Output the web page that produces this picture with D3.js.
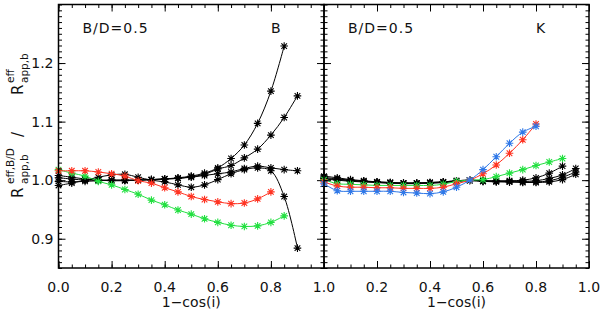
<!DOCTYPE html>
<html>
<head>
<meta charset="utf-8">
<script src="https://cdn.jsdelivr.net/npm/d3@7"></script>
<style>
  body { margin: 0; background: #fff; }
  text { font-family: "DejaVu Sans", sans-serif; fill: #111; }
</style>
</head>
<body>
<script>
// inclination grid, 1-cos(i)
const incl = [0, 0.05, 0.1, 0.15, 0.2, 0.25, 0.3, 0.35, 0.4, 0.45,
              0.5, 0.55, 0.6, 0.65, 0.7, 0.75, 0.8, 0.85, 0.9, 0.95];

// B band panel
const bBlackA = [1.004, 1.002, 1.000, 1.000, 1.000, 1.000, 1.000, 1.001, 1.002, 1.004, 1.007, 1.012, 1.021, 1.037, 1.060, 1.097, 1.152, 1.229];
const bBlackB = [0.998, 0.997, 0.998, 0.999, 1.000, 1.000, 1.000, 1.001, 1.002, 1.003, 1.006, 1.010, 1.019, 1.025, 1.038, 1.053, 1.077, 1.107, 1.144];
const bBlackC = [0.991, 0.995, 1.000, 1.005, 1.009, 1.010, 1.005, 1.000, 0.997, 0.992, 0.988, 0.992, 1.001, 1.011, 1.018, 1.021, 1.016, 0.972, 0.884];
const bBlackD = [1.008, 1.005, 1.002, 1.000, 0.999, 0.999, 1.000, 1.001, 1.002, 1.003, 1.005, 1.008, 1.011, 1.014, 1.020, 1.024, 1.021, 1.018, 1.016];
const bRed    = [1.016, 1.016, 1.016, 1.014, 1.011, 1.007, 0.999, 0.995, 0.987, 0.980, 0.972, 0.967, 0.963, 0.960, 0.961, 0.968, 0.980];
const bGreen  = [1.018, 1.012, 1.007, 0.998, 0.992, 0.984, 0.976, 0.966, 0.958, 0.949, 0.942, 0.934, 0.928, 0.923, 0.921, 0.922, 0.928, 0.939];

// K band panel
const kBlack1 = [1.007, 1.004, 1.001, 0.999, 0.997, 0.996, 0.995, 0.995, 0.996, 0.997, 0.999, 1.000, 0.999, 0.999, 0.999, 1.000, 1.004, 1.012, 1.024];
const kBlack2 = [1.005, 1.002, 1.000, 0.998, 0.997, 0.996, 0.995, 0.995, 0.996, 0.997, 0.999, 1.000, 0.999, 0.998, 0.998, 0.998, 0.999, 1.003, 1.009, 1.020];
const kBlack3 = [1.003, 1.001, 0.999, 0.998, 0.996, 0.995, 0.995, 0.995, 0.995, 0.996, 0.998, 1.000, 0.998, 0.998, 0.997, 0.997, 0.997, 0.999, 1.005, 1.014];
const kBlack4 = [1.002, 1.000, 0.998, 0.997, 0.996, 0.995, 0.994, 0.994, 0.995, 0.996, 0.998, 0.999, 0.998, 0.997, 0.997, 0.996, 0.996, 0.997, 1.001, 1.010];
const kGreen  = [1.001, 0.994, 0.993, 0.992, 0.991, 0.991, 0.991, 0.991, 0.991, 0.993, 0.998, 1.000, 1.001, 1.006, 1.012, 1.018, 1.025, 1.031, 1.037];
const kRed    = [0.997, 0.990, 0.988, 0.988, 0.987, 0.987, 0.986, 0.986, 0.986, 0.988, 0.994, 1.000, 1.011, 1.026, 1.046, 1.069, 1.096];
const kBlue   = [0.994, 0.982, 0.981, 0.981, 0.981, 0.981, 0.979, 0.978, 0.977, 0.980, 0.988, 1.000, 1.018, 1.040, 1.063, 1.082, 1.092];

const xTicksLeft = [0, 0.2, 0.4, 0.6, 0.8, 1.0];
const xTicksRight = [0.2, 0.4, 0.6, 0.8, 1.0];
const yTicks = [0.9, 1.0, 1.1, 1.2];

const colors = { black: "#000", red: "#ff3322", green: "#22e040", blue: "#2f78e8" };

const svg = d3.select("body").append("svg")
  .attr("width", 600)
  .attr("height", 313);

const yTop = 4.5, yBottom = 268;
const y = d3.scaleLinear().domain([0.85, 1.30]).range([yBottom, yTop]);

const panels = [
  { x0: 58.5, x1: 324, band: "B", xticks: xTicksLeft, ylabels: true,
    series: [[bBlackA, "black"], [bBlackB, "black"], [bBlackC, "black"], [bBlackD, "black"],
             [bGreen, "green"], [bRed, "red"]] },
  { x0: 324, x1: 589, band: "K", xticks: xTicksRight, ylabels: false,
    series: [[kBlack1, "black"], [kBlack2, "black"], [kBlack3, "black"], [kBlack4, "black"],
             [kGreen, "green"], [kRed, "red"], [kBlue, "blue"]] }
];

const minorX = d3.range(0, 1.0001, 0.05);
const minorY = d3.range(0.85, 1.3001, 0.01);

// asterisk marker, plus and cross
const star = "M-3.8,0H3.8M0,-3.8V3.8M-2.8,-2.8L2.8,2.8M-2.8,2.8L2.8,-2.8";

panels.forEach(p => {
  const x = d3.scaleLinear().domain([0, 1]).range([p.x0, p.x1]);
  const g = svg.append("g");

  const line = d3.line()
    .x((d, i) => x(incl[i]))
    .y(d => y(d))
    .curve(d3.curveCatmullRom.alpha(0.5));

  p.series.forEach(([vals, c]) => {
    g.append("path")
      .attr("d", line(vals))
      .attr("fill", "none")
      .attr("stroke", colors[c])
      .attr("stroke-width", 1);
    g.selectAll(null)
      .data(vals)
      .join("path")
        .attr("d", star)
        .attr("transform", (d, i) => `translate(${x(incl[i])},${y(d)})`)
        .attr("fill", "none")
        .attr("stroke", colors[c])
        .attr("stroke-width", 1.1);
  });

  // ticks on all four sides, pointing in
  const axes = [
    [d3.axisBottom(x), `translate(0,${yBottom})`],
    [d3.axisTop(x), `translate(0,${yTop})`],
  ];
  axes.forEach(([ax, tr]) => {
    g.append("g").attr("transform", tr)
      .call(ax.tickValues(minorX).tickSize(-3.5).tickFormat(""));
    g.append("g").attr("transform", tr)
      .call(ax.tickValues(p.xticks).tickSize(-7).tickFormat(""));
  });
  [[d3.axisLeft(y), p.x0], [d3.axisRight(y), p.x1]].forEach(([ax, xp]) => {
    g.append("g").attr("transform", `translate(${xp},0)`)
      .call(ax.tickValues(minorY).tickSize(-3.5).tickFormat(""));
    g.append("g").attr("transform", `translate(${xp},0)`)
      .call(ax.tickValues(yTicks).tickSize(-7).tickFormat(""));
  });
  g.selectAll(".domain").remove();
  g.selectAll(".tick line").attr("stroke", "#000").attr("stroke-width", 1);

  // tick labels
  g.selectAll(".xlab")
    .data(p.xticks)
    .join("text")
      .attr("x", d => x(d))
      .attr("y", 292)
      .attr("text-anchor", "middle")
      .attr("font-size", 14)
      .text(d3.format(".1f"));
  if (p.ylabels) {
    g.selectAll(".ylab")
      .data(yTicks)
      .join("text")
        .attr("x", p.x0 - 5)
        .attr("y", d => y(d) + 5)
        .attr("text-anchor", "end")
        .attr("font-size", 14)
        .text(d3.format(".1f"));
  }

  g.append("rect")
    .attr("x", p.x0).attr("y", yTop)
    .attr("width", p.x1 - p.x0).attr("height", yBottom - yTop)
    .attr("fill", "none")
    .attr("stroke", "#000")
    .attr("stroke-width", 1.5);

  g.append("text")
    .attr("x", p.x0 + 24).attr("y", 33)
    .attr("font-size", 14)
    .attr("letter-spacing", 1)
    .text("B/D=0.5");
  g.append("text")
    .attr("x", x(0.8)).attr("y", 33)
    .attr("font-size", 14)
    .text(p.band);

  g.append("text")
    .attr("x", (p.x0 + p.x1) / 2).attr("y", 307)
    .attr("text-anchor", "middle")
    .attr("font-size", 14)
    .text("1\u2212cos(i)");
});

// y axis title: R^{eff,B/D}_{app,b} / R^{eff}_{app,b}
const yt = svg.append("g").attr("transform", "translate(0,128) rotate(-90)");
const ytParts = [
  ["R", -70, 23, 15],
  ["eff,B/D", -56, 14, 10.5],
  ["app,b", -56, 28, 10.5],
  ["/", -9, 23, 15],
  ["R", 33, 23, 15],
  ["eff", 45, 14, 10.5],
  ["app,b", 45, 28, 10.5]
];
yt.selectAll("text")
  .data(ytParts)
  .join("text")
    .attr("x", d => d[1])
    .attr("y", d => d[2])
    .attr("font-size", d => d[3])
    .text(d => d[0]);
</script>
</body>
</html>
